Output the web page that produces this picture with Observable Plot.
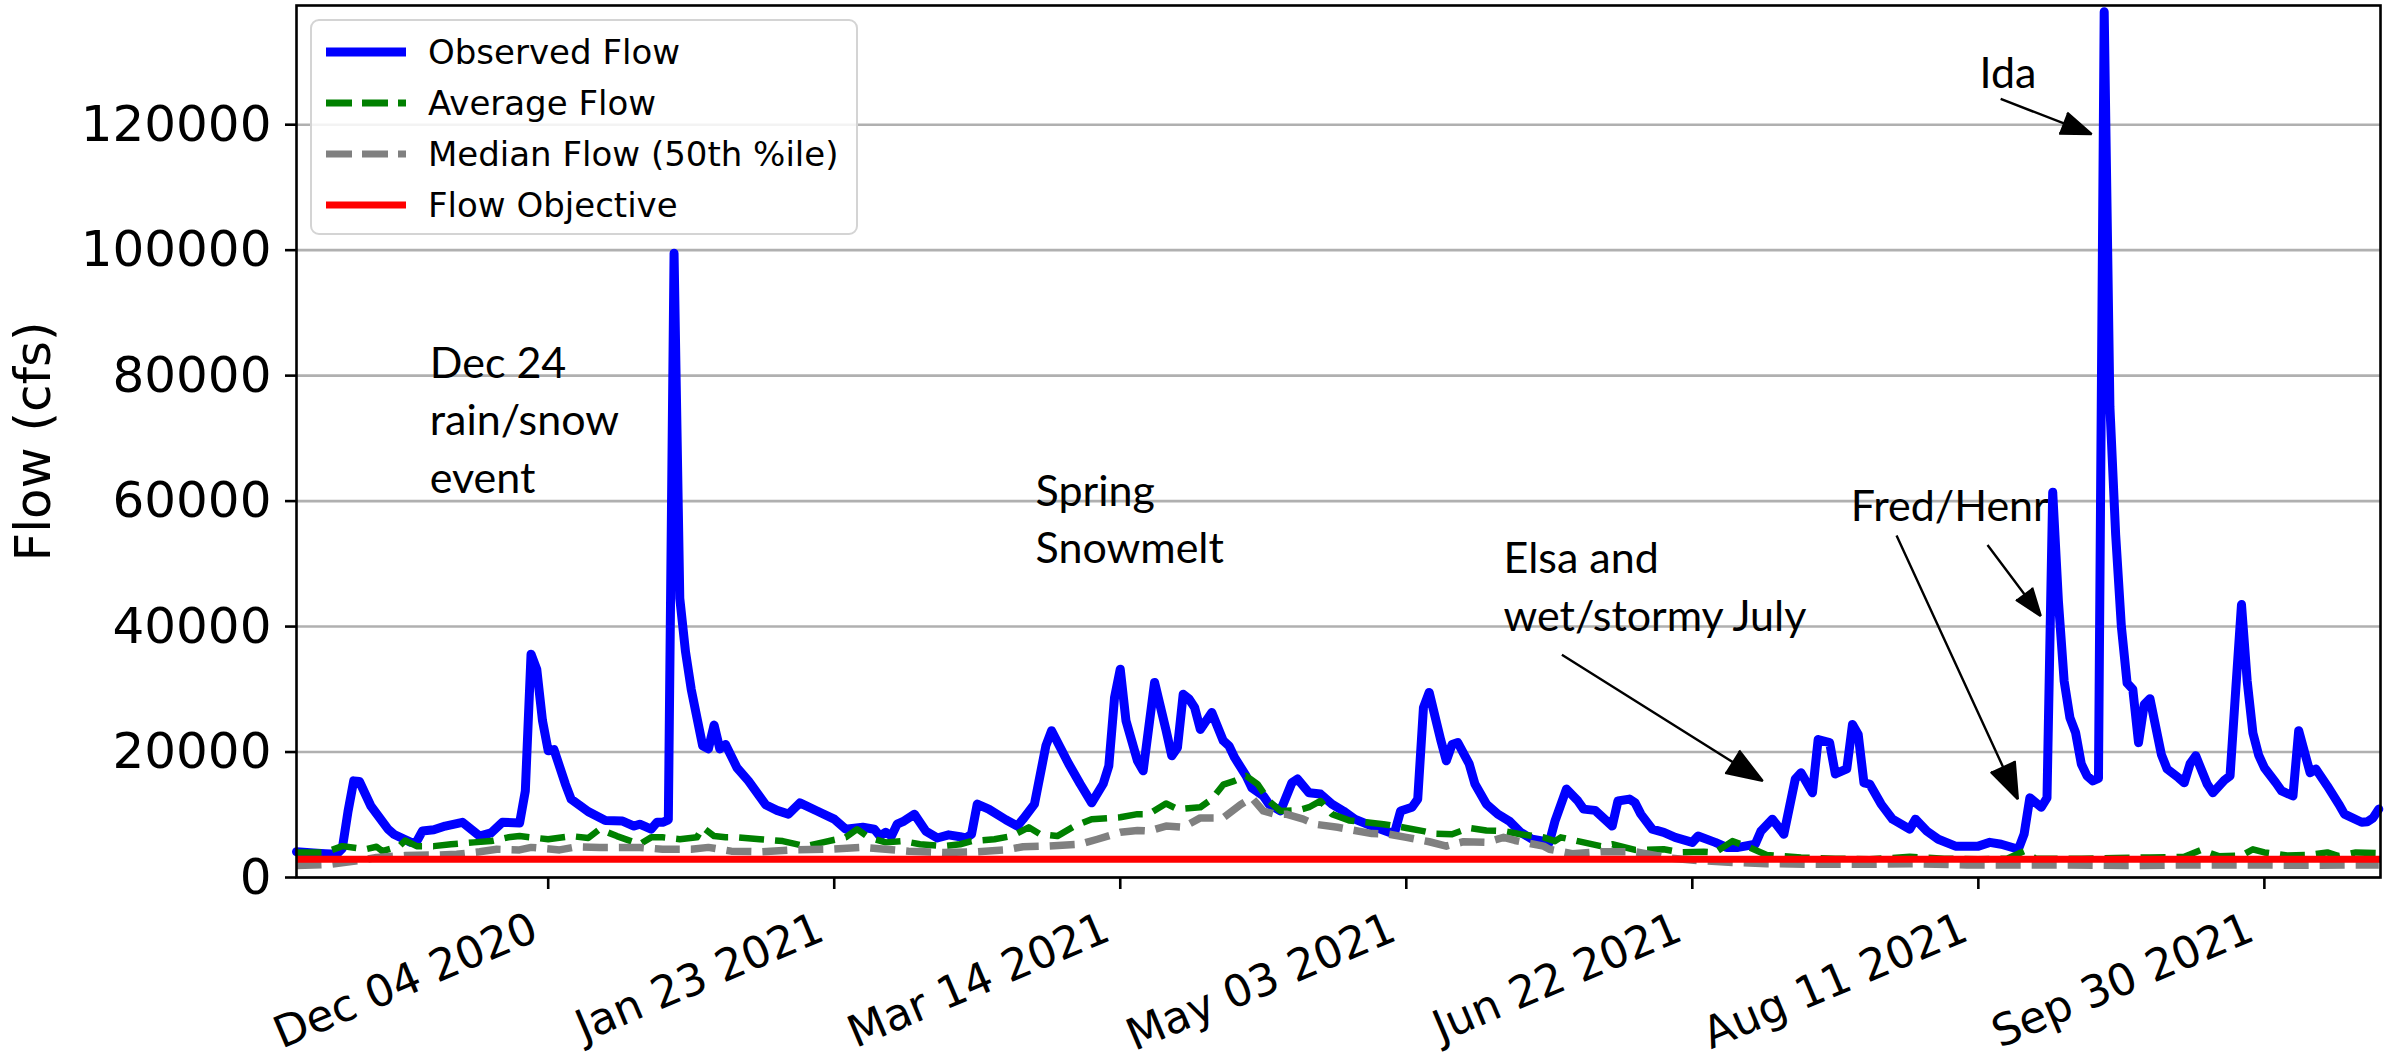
<!DOCTYPE html>
<html>
<head>
<meta charset="utf-8">
<script src="https://cdn.jsdelivr.net/npm/d3@7"></script>
<script src="https://cdn.jsdelivr.net/npm/@observablehq/plot@0.6"></script>
<style>
  html, body { margin: 0; padding: 0; background: #ffffff; }
  #wrap { position: relative; width: 2402px; height: 1064px; background: #ffffff; }
  #legend {
    position: absolute; left: 310px; top: 19px; width: 548px; height: 216px;
    box-sizing: border-box; border: 2px solid #d4d4d4; border-radius: 9px;
    background: rgba(255,255,255,0.85); font-family: "DejaVu Sans"; font-size: 34px; color: #000;
  }
  .lrow { position: absolute; left: 0; height: 44px; display: flex; align-items: center; white-space: nowrap; }
  .lrow svg { margin-left: 14px; margin-right: 22px; }
</style>
</head>
<body>
<div id="wrap">
  <div id="chart"></div>
  <div id="legend"></div>
</div>
<script>
// ---------------- data ----------------
// days are counted from this start date (day 0)
const startDate = "2020-10-21";

const observedDay = [0,3,5,7,8,9,10,11,13,16,17,20,21,22,24,26,29,32,34,36,39,40,41,42,43,44,45,47,48,51,54,57,59,60,62,63,64,65,66,67,68,69,70,71,72,73,74,75,77,79,82,84,86,88,91,94,96,99,101,102,103,104,105,106,108,110,112,114,116,117,118,119,121,124,126,127,129,131,132,135,137,139,141,142,143,144,145,147,148,150,152,153,154,155,156,157,158,160,162,163,164,166,167,169,170,172,174,175,177,179,181,183,185,188,191,192,193,195,196,197,198,200,201,202,203,205,206,208,210,212,214,216,218,219,220,222,224,225,227,230,231,233,234,235,237,239,241,244,245,248,250,252,255,256,258,260,262,263,265,266,268,269,271,272,273,274,275,277,279,282,283,285,287,290,294,296,298,301,302,303,305,306,307,308,309,310,311,312,313,314,315,316,317,318,319,320,321,322,323,324,326,327,329,330,331,332,334,335,337,338,339,340,341,342,343,344,346,347,349,350,352,353,355,357,358,361,362,363,364];
const observedFlow = [4100,3900,3800,3700,4600,10500,15400,15300,11400,7700,6900,5600,5700,7400,7600,8200,8800,6600,7100,8800,8700,13800,35600,33200,25000,20200,20400,14900,12500,10500,9100,9000,8200,8500,7700,8800,8800,9200,99500,44500,36000,30000,25500,21000,20500,24300,20500,21200,17500,15400,11600,10700,10100,11900,10600,9300,7700,8000,7700,6600,7200,6600,8500,8900,10100,7400,6300,6800,6500,6300,6900,11700,10900,9200,8200,9300,11700,21000,23400,18100,14900,11900,14900,17800,28700,33200,25000,18600,17000,31100,23500,19400,20700,29200,28500,27100,23600,26300,21800,21000,19100,16200,14300,13000,11700,10600,15100,15700,13500,13300,11700,10600,9300,8200,7200,7300,10600,11200,12500,27100,29500,22000,18600,21200,21500,18100,14900,11700,10100,9000,7200,6100,5800,5600,9000,14100,12200,10900,10700,8200,12200,12500,11900,10100,7700,7200,6400,5600,6600,5600,4800,4800,5300,7400,9300,6900,15700,16700,13500,22000,21500,16500,17300,24400,22800,15100,14900,11700,9300,7700,9300,7400,6100,5000,5000,5600,5300,4500,6900,12700,11200,12700,61400,44000,31300,25500,23100,18100,16200,15400,15800,138000,75000,54700,40000,31000,30000,21500,27600,28500,19600,17300,15900,15100,18100,19400,14900,13500,15500,16200,30000,43500,31300,23000,19500,17500,15100,13800,13000,23400,16700,17300,14600,11700,10100,8800,8900,9500,10900];

const averageDay = [0,5,8,12,14,15,18,19,21,24,27,31,34,37,39,41,44,48,51,53,56,60,62,64,67,70,71,73,75,77,81,85,89,92,96,98,100,103,106,109,113,116,118,122,125,128,130,133,136,139,144,147,149,152,154,158,160,162,164,166,168,170,172,175,177,179,181,184,187,190,194,197,199,202,205,208,211,214,218,220,221,224,228,230,234,239,242,246,248,251,254,257,263,269,275,282,288,294,299,302,304,312,318,324,330,333,336,340,342,344,348,352,355,357,360,364];
const averageFlow = [4000,4000,5000,4500,4900,4200,5000,5900,5000,5000,5300,5600,5800,6400,6600,6400,6100,6600,6300,7700,6600,5300,6400,6400,6100,6400,8000,6600,6400,6400,6100,5800,5000,5600,6400,7700,6400,5600,5800,5300,5000,5300,5800,6100,6600,8000,6900,6600,8200,9300,9600,10100,10100,11800,10900,11200,12500,14800,15400,16200,14900,12200,10600,10700,11200,12200,10100,9100,8800,8500,7900,7400,7000,6900,7900,7500,7400,6900,6400,5800,6400,5800,5000,5300,4400,4500,4000,4100,4000,5800,4800,3600,3200,3000,2900,3300,3000,2900,3000,4200,3000,3000,3100,3200,3300,4400,3400,3500,4500,4000,3500,3600,4000,3400,4000,3900];

const medianDay = [0,6,11,14,19,25,28,32,35,39,41,46,49,53,56,60,64,69,72,76,81,87,93,99,103,107,113,119,124,127,131,137,140,144,147,149,152,155,158,162,165,167,169,171,173,176,178,182,185,188,191,194,198,201,204,208,211,213,218,219,223,228,234,240,245,251,257,266,275,283,292,300,310,320,330,340,350,364];
const medianFlow = [1900,2100,2700,3200,3500,3600,3700,4100,4500,4400,4800,4400,4900,4800,4800,4800,4500,4500,4800,4200,4100,4400,4500,4800,4500,4200,4000,4100,4400,4900,5000,5300,6100,7200,7500,7400,8200,8000,9500,9500,11600,12700,10600,10100,10100,9300,8500,8000,7500,7000,6900,6400,5700,5000,5700,5600,6400,5900,5000,4500,3800,4100,4100,3100,2700,2400,2200,2100,2100,2200,2000,2000,2000,1900,2000,2000,1950,2000];

const flowObjective = [2900];

const xDomainDays = [0, 364.3];
const xTickDays = [44, 94, 144, 194, 244, 294, 344];   // Dec 04 2020 ... Sep 30 2021
const yTicks = [0, 20000, 40000, 60000, 80000, 100000, 120000];
const yMax = 139000;

const seriesNames = ["Observed Flow", "Average Flow", "Median Flow (50th %ile)", "Flow Objective"];

const noteText = ["Dec 24\nrain/snow\nevent", "Spring\nSnowmelt", "Elsa and\nwet/stormy July", "Fred/Henri", "Ida"];
const noteDay = [23.3, 129.2, 211.0, 271.7, 294.2];
const noteFlow = [86200, 65800, 55000, 63300, 132300];

const arrowFromDay = [297.9, 221.2, 279.7, 295.6];
const arrowFromFlow = [124100, 35500, 54500, 53000];
const arrowToDay = [313.8, 256.3, 300.9, 304.9];
const arrowToFlow = [118500, 15400, 12500, 41700];

// ---------------- build ----------------
const base = new Date(startDate + "T00:00:00Z");
const toDate = d => new Date(base.getTime() + d * 864e5);

const observed = observedDay.map((d, i) => ({date: toDate(d), flow: observedFlow[i]}));
const average = averageDay.map((d, i) => ({date: toDate(d), flow: averageFlow[i]}));
const median = medianDay.map((d, i) => ({date: toDate(d), flow: medianFlow[i]}));
const notes = noteText.map((t, i) => ({text: t, date: toDate(noteDay[i]), flow: noteFlow[i]}));
const arrows = arrowFromDay.map((d, i) => ({
  x1: toDate(d), y1: arrowFromFlow[i], x2: toDate(arrowToDay[i]), y2: arrowToFlow[i]
}));
const xTicks = xTickDays.map(toDate);

const chart = Plot.plot({
  width: 2402,
  height: 1064,
  marginLeft: 296,
  marginRight: 22,
  marginTop: 5,
  marginBottom: 187,
  style: {fontFamily: "DejaVu Sans", fontSize: "50px", background: "#ffffff", color: "#000000"},
  x: {type: "utc", domain: xDomainDays.map(toDate)},
  y: {domain: [0, yMax]},
  marks: [
    Plot.gridY(yTicks, {stroke: "#b0b0b0", strokeOpacity: 1, strokeWidth: 2.6}),
    Plot.text(notes, {
      x: "date", y: "flow", text: "text", textAnchor: "start", lineAnchor: "top",
      fontFamily: "Lato", fontSize: 43, lineHeight: 1.34, fill: "#000000"
    }),
    Plot.line(observed, {x: "date", y: "flow", stroke: "blue", strokeWidth: 9, strokeLinejoin: "round", strokeLinecap: "round"}),
    Plot.line(average, {x: "date", y: "flow", stroke: "green", strokeWidth: 6.5, strokeDasharray: "25,11", strokeLinecap: "butt"}),
    Plot.line(median, {x: "date", y: "flow", stroke: "gray", strokeWidth: 7.5, strokeDasharray: "25,11", strokeLinecap: "butt"}),
    Plot.ruleY(flowObjective, {stroke: "red", strokeWidth: 7}),
    Plot.arrow(arrows, {
      x1: "x1", y1: "y1", x2: "x2", y2: "y2",
      stroke: "black", fill: "black", strokeWidth: 2.4, headLength: 24, headAngle: 40, strokeLinecap: "butt"
    }),
    Plot.frame({stroke: "black", strokeWidth: 2.6}),
    Plot.axisY(yTicks, {
      tickSize: 11, tickPadding: 14, fontSize: 50, strokeWidth: 2.6,
      tickFormat: d => String(d),
      label: "Flow (cfs)", labelAnchor: "center", labelOffset: 282, labelArrow: "none"
    }),
    // tick marks of the date axis
    Plot.axisX(xTicks, {tickSize: 12, strokeWidth: 2.6, tickFormat: () => "", label: null}),
    // rotated date labels, right end just left of each tick (as matplotlib ha="right")
    Plot.axisX(xTicks, {
      tickSize: 0, tickPadding: 33, fontSize: 44,
      tickFormat: d3.utcFormat("%b %d %Y"), tickRotate: -23, textAnchor: "end", lineAnchor: "top",
      dx: -20, label: null
    })
  ]
});
document.getElementById("chart").appendChild(chart);

// ---------------- legend (inside the axes, upper left) ----------------
const legendStyles = [
  {stroke: "blue", width: 9, dash: null},
  {stroke: "green", width: 7, dash: "26,10"},
  {stroke: "gray", width: 7, dash: "26,10"},
  {stroke: "red", width: 7, dash: null}
];
const legend = document.getElementById("legend");
seriesNames.forEach((name, i) => {
  const row = document.createElement("div");
  row.className = "lrow";
  row.style.top = (9 + i * 51) + "px";
  const st = legendStyles[i];
  row.innerHTML =
    `<svg width="80" height="20"><line x1="0" x2="80" y1="10" y2="10" stroke="${st.stroke}" stroke-width="${st.width}"` +
    (st.dash ? ` stroke-dasharray="${st.dash}"` : "") + `/></svg><span>${name}</span>`;
  legend.appendChild(row);
});
</script>
</body>
</html>
